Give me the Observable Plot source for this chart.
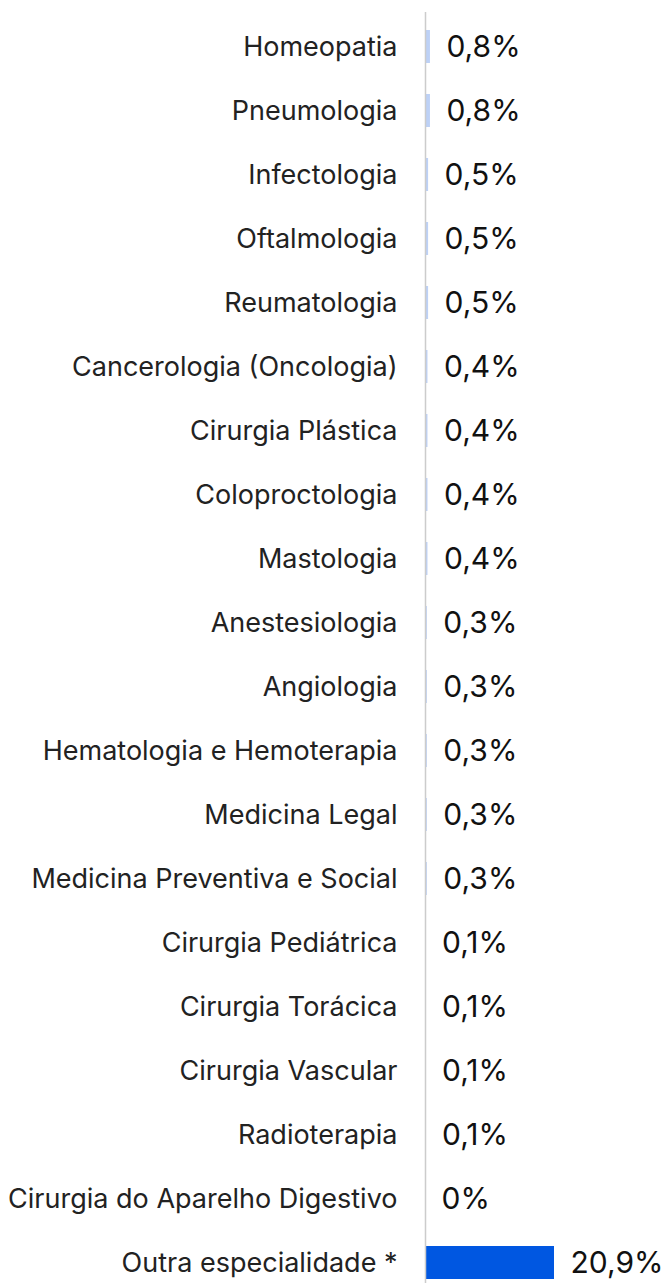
<!DOCTYPE html>
<html><head><meta charset="utf-8">
<script src="https://cdn.jsdelivr.net/npm/d3@7"></script>
<script src="https://cdn.jsdelivr.net/npm/@observablehq/plot@0.6"></script>
<style>body{margin:0;background:#fff;} svg{display:block;}</style>
</head><body><div id="chart"></div>
<script>
const categories = ["Homeopatia","Pneumologia","Infectologia","Oftalmologia","Reumatologia","Cancerologia (Oncologia)","Cirurgia Plástica","Coloproctologia","Mastologia","Anestesiologia","Angiologia","Hematologia e Hemoterapia","Medicina Legal","Medicina Preventiva e Social","Cirurgia Pediátrica","Cirurgia Torácica","Cirurgia Vascular","Radioterapia","Cirurgia do Aparelho Digestivo","Outra especialidade *"];
const values = [0.8,0.8,0.5,0.5,0.5,0.4,0.4,0.4,0.4,0.3,0.3,0.3,0.3,0.3,0.1,0.1,0.1,0.1,0,20.9];
const highlight = "Outra especialidade *";
const data = categories.map((c,i)=>({cat:c, v:values[i]}));
const fmt = v => v === 0 ? "0%" : v.toFixed(1).replace(".", ",") + "%";
const chart = Plot.plot({
  width: 672, height: 1283,
  marginLeft: 425, marginRight: 118, marginTop: 12, marginBottom: 0,
  style: {fontFamily: "Inter, sans-serif", color: "#222"},
  x: {domain: [0, 20.9], axis: null},
  y: {domain: categories, range: [11, 1298], paddingInner: 0.48, paddingOuter: 0.24, label: null},
  marks: [
    Plot.barX(data, {y: "cat", x: "v", fill: d => d.cat === highlight ? "#0057e1" : "#bdd1f6"}),
    Plot.ruleX([0], {stroke: "#cccccc", strokeWidth: 1.5}),
    Plot.axisY({tickSize: 0, tickPadding: 28, fontSize: 27, label: null, fill: "#222"}),
    Plot.text(data, {y: "cat", x: "v", text: d => fmt(d.v), dx: 16, textAnchor: "start", fontSize: 30, fill: "#111"})
  ]
});
document.getElementById("chart").append(chart);
</script></body></html>
